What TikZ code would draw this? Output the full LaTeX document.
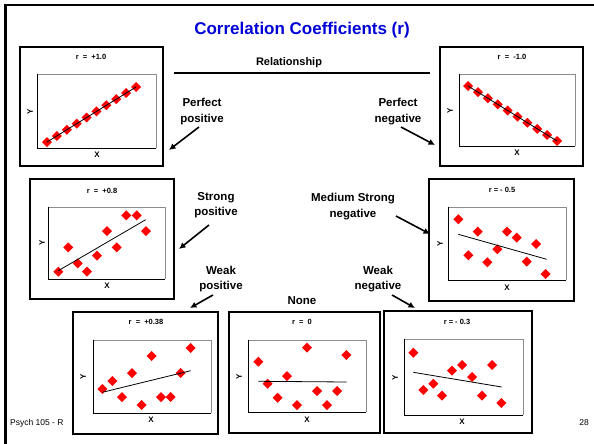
\documentclass[tikz,border=0pt]{standalone}
\usepackage{fontspec}
\setmainfont{Liberation Sans}
\usetikzlibrary{arrows.meta}
\tikzset{
  outerbox/.style={draw=black, line width=1.3pt, fill=white},
  innerfrm/.style={draw=black!45, line width=0.8pt},
  innerax/.style={draw=black, line width=0.9pt},
  rlab/.style={font=\bfseries\fontsize{7.5}{8}\selectfont, inner sep=0pt},
  axlab/.style={font=\bfseries\fontsize{8}{8}\selectfont, inner sep=0pt},
  cat/.style={font=\bfseries\fontsize{11.5}{15.5}\selectfont, align=center, inner sep=0pt},
  pointer/.style={line width=1.6pt, -{Latex[length=6.5pt,width=6.5pt]}},
  fitline/.style={line width=0.8pt, black},
}
\newcommand\dia[2]{\fill[red] (#1,#2) +(0,-5) -- +(5,0) -- +(0,5) -- +(-5,0) -- cycle;}
\newcommand\panel[8]{%
  \draw[outerbox] (#1,#2) rectangle (#3,#4);
  \draw[innerfrm] (#5,#6) -- (#7,#6) -- (#7,#8);
  \draw[innerax] (#5,#6) -- (#5,#8) -- (#7,#8);
}
\begin{document}
\begin{tikzpicture}[x=1pt,y=-1pt]
\useasboundingbox (0,0) rectangle (594,444);
\fill[white] (0,0) rectangle (594,444);
% slide frame
\draw[line width=2.6pt] (5.5,444) -- (5.5,5) -- (594,5);
% footer
\node[anchor=west, font=\fontsize{8.5}{10}\selectfont, inner sep=0pt] (foot) at (10,423) {Psych 105 - R};
\node[font=\fontsize{8.5}{10}\selectfont, inner sep=0pt] (pg) at (584,423) {28};
% title
\node[font=\bfseries\fontsize{17}{20}\selectfont, text={rgb,255:red,0;green,0;blue,215}, inner sep=0pt] (title) at (302,30) {Correlation Coefficients (r)};
% Relationship
\node[font=\bfseries\fontsize{11}{13}\selectfont, inner sep=0pt] (rel) at (289,63) {Relationship};
\coordinate (rl1) at (174,73);
\coordinate (rl2) at (430,73);
\draw[line width=1.8pt] (rl1) -- (rl2);

% ---------- panel 1: r = +1.0
\panel{20}{47}{163}{166}{37}{74}{156}{148}
\node[rlab] (r1) at (91,57) {r\ \ =\ \ +1.0};
\node[axlab, rotate=90] (y1) at (30,112) {Y};
\node[axlab] (x1) at (97,155) {X};
\coordinate (a1) at (47,142); \coordinate (b1) at (136,87);
\foreach \i in {0,...,9}{\dia{47+\i*89/9}{142-\i*55/9}}
\draw[fitline] (a1) -- (b1);

% ---------- panel 2: r = -1.0
\panel{440}{47}{583}{166}{459}{74}{575}{146}
\node[rlab] (r2) at (512,57) {r\ \ =\ \ -1.0};
\node[axlab, rotate=90] (y2) at (450,111) {Y};
\node[axlab] (x2) at (517,153) {X};
\coordinate (a2) at (468,86); \coordinate (b2) at (557,141);
\foreach \i in {0,...,9}{\dia{468+\i*89/9}{86+\i*55/9}}
\draw[fitline] (a2) -- (b2);

% ---------- panel 3: r = +0.8
\panel{30}{179}{174}{299}{48}{207}{165}{279}
\node[rlab] (r3) at (102,191) {r\ \ =\ \ +0.8};
\node[axlab, rotate=90] (y3) at (42,243) {Y};
\node[axlab] (x3) at (107,286) {X};
\foreach \px/\py in {58.3/271.7, 68.3/247.3, 77.7/263.3, 87/271.7, 97/255.7, 107/231, 116.7/247.3, 126.3/215.3, 136.7/215.3, 146/231}{\dia{\px}{\py}}
\coordinate (a3) at (58.3,270.7); \coordinate (b3) at (145.7,219.7);
\draw[fitline] (a3) -- (b3);

% ---------- panel 4: r = -0.5
\panel{429}{179}{574}{301}{448}{207}{566}{280}
\node[rlab] (r4) at (502,190) {r = - 0.5};
\node[axlab, rotate=90] (y4) at (440,244) {Y};
\node[axlab] (x4) at (507,288) {X};
\foreach \px/\py in {458.3/219.3, 477.7/231.7, 468.3/255.3, 487.3/262.3, 497.3/249.3, 507/231.7, 516.7/237.7, 526.7/261.7, 536/244, 545.7/274}{\dia{\px}{\py}}
\coordinate (a4) at (458.3,234.3); \coordinate (b4) at (546.7,259.3);
\draw[fitline] (a4) -- (b4);

% ---------- panel 5: r = +0.38
\panel{73}{312}{218}{434}{93}{340}{211}{413}
\node[rlab] (r5) at (146,322) {r\ \ =\ \ +0.38};
\node[axlab, rotate=90] (y5) at (83,377) {Y};
\node[axlab] (x5) at (151,420) {X};
\foreach \px/\py in {102.3/389, 112.3/381, 122/397, 132/373, 141.7/405, 151.7/356, 161/397, 170.7/397, 180.7/373, 190.7/348}{\dia{\px}{\py}}
\coordinate (a5) at (102.3,392.3); \coordinate (b5) at (190.7,370.7);
\draw[fitline] (a5) -- (b5);

% ---------- panel 6: r = 0
\panel{229}{312}{380}{433}{248}{340}{366}{412}
\node[rlab] (r6) at (302,322) {r\ \ =\ \ 0};
\node[axlab, rotate=90] (y6) at (239,377) {Y};
\node[axlab] (x6) at (307,420) {X};
\foreach \px/\py in {258.3/361.7, 267.7/383.7, 277.7/397.7, 287/376, 297/405, 307/347.7, 317/391, 327/405, 337/391, 346.3/355}{\dia{\px}{\py}}
\coordinate (a6) at (258.3,381.3); \coordinate (b6) at (346.7,382);
\draw[fitline] (a6) -- (b6);

% ---------- panel 7: r = -0.3
\panel{384}{311}{532}{433}{404}{339}{523}{415}
\node[rlab] (r7) at (457,322) {r = - 0.3};
\node[axlab, rotate=90] (y7) at (395,378) {Y};
\node[axlab] (x7) at (462,422) {X};
\foreach \px/\py in {413.3/352.7, 423.3/390, 433.3/383.7, 442/395.7, 452/370.7, 462/365, 472/377, 482/395.7, 492/365, 501.3/403}{\dia{\px}{\py}}
\coordinate (a7) at (413.3,372.3); \coordinate (b7) at (501.7,387);
\draw[fitline] (a7) -- (b7);

% ---------- category labels and pointers
\node[cat] (pp) at (202,111.5) {Perfect\\positive};
\node[cat] (pn) at (398,111.5) {Perfect\\negative};
\node[cat] (sp) at (216,205) {Strong\\positive};
\node[cat] (ms) at (353,206.5) {Medium Strong\\negative};
\node[cat] (wp) at (221,279) {Weak\\positive};
\node[cat] (wn) at (378,279) {Weak\\negative};
\node[cat] (none) at (302,301) {None};

\coordinate (pps) at (199,127); \coordinate (ppe) at (169,150);
\coordinate (pns) at (401,127); \coordinate (pne) at (435,145);
\coordinate (sps) at (209,225); \coordinate (spe) at (179,249);
\coordinate (mss) at (396,216); \coordinate (mse) at (430,234);
\coordinate (wps) at (213,295); \coordinate (wpe) at (190,308);
\coordinate (wns) at (392,295); \coordinate (wne) at (415,308);
\draw[pointer] (pps) -- (ppe);
\draw[pointer] (pns) -- (pne);
\draw[pointer] (sps) -- (spe);
\draw[pointer] (mss) -- (mse);
\draw[pointer] (wps) -- (wpe);
\draw[pointer] (wns) -- (wne);
\end{tikzpicture}
\end{document}
